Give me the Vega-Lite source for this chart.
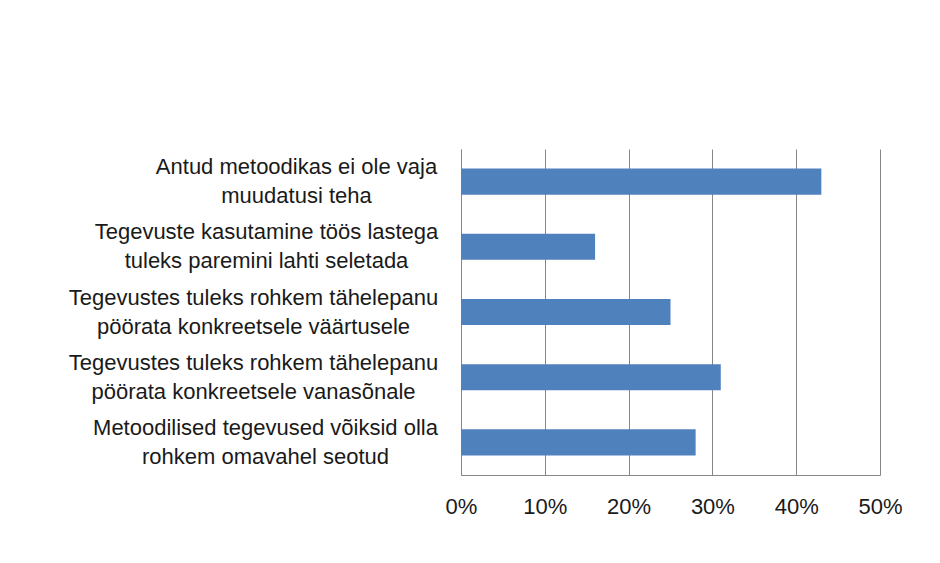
{
  "$schema": "https://vega.github.io/schema/vega-lite/v6.json",
  "autosize": "none",
  "width": 419,
  "height": 326,
  "padding": {"left": 461, "top": 149, "right": 60, "bottom": 88},
  "background": "white",
  "config": {
    "view": {"stroke": null},
    "font": "Liberation Sans"
  },
  "data": {
    "values": [
      {"category": "Antud metoodikas ei ole vaja|muudatusi teha", "share": 0.43},
      {"category": "Tegevuste kasutamine töös lastega|tuleks paremini lahti seletada", "share": 0.16},
      {"category": "Tegevustes tuleks rohkem tähelepanu|pöörata konkreetsele väärtusele", "share": 0.25},
      {"category": "Tegevustes tuleks rohkem tähelepanu|pöörata konkreetsele vanasõnale", "share": 0.31},
      {"category": "Metoodilised tegevused võiksid olla|rohkem omavahel seotud", "share": 0.28}
    ]
  },
  "mark": {"type": "bar", "color": "#4F81BD"},
  "encoding": {
    "y": {
      "field": "category",
      "type": "nominal",
      "sort": null,
      "scale": {"paddingInner": 0.6, "paddingOuter": 0.3},
      "axis": {
        "title": null,
        "labelExpr": "split(datum.label, '|')",
        "labelFont": "Liberation Sans",
        "labelFontSize": 22,
        "labelLineHeight": 29,
        "labelColor": "#1a1a1a",
        "labelAlign": "center",
        "labelPadding": {
          "condition": [
            {"test": "indexof(datum.value, 'Antud') == 0", "value": 165},
            {"test": "indexof(datum.value, 'Tegevuste kasutamine') == 0", "value": 195},
            {"test": "indexof(datum.value, 'Tegevustes') == 0", "value": 208}
          ],
          "value": 196
        },
        "labelOffset": -14.5,
        "labelLimit": 0,
        "ticks": false,
        "domain": true,
        "domainColor": "#868686",
        "domainWidth": 1,
        "grid": false
      }
    },
    "x": {
      "field": "share",
      "type": "quantitative",
      "scale": {"domain": [0, 0.5], "nice": false},
      "axis": {
        "title": null,
        "format": ".0%",
        "values": [0, 0.1, 0.2, 0.3, 0.4, 0.5],
        "labelFont": "Liberation Sans",
        "labelFontSize": 22,
        "labelColor": "#1a1a1a",
        "labelPadding": 21,
        "labelFlush": false,
        "ticks": false,
        "domain": true,
        "domainColor": "#868686",
        "grid": true,
        "gridColor": "#868686",
        "gridWidth": 1
      }
    }
  }
}
